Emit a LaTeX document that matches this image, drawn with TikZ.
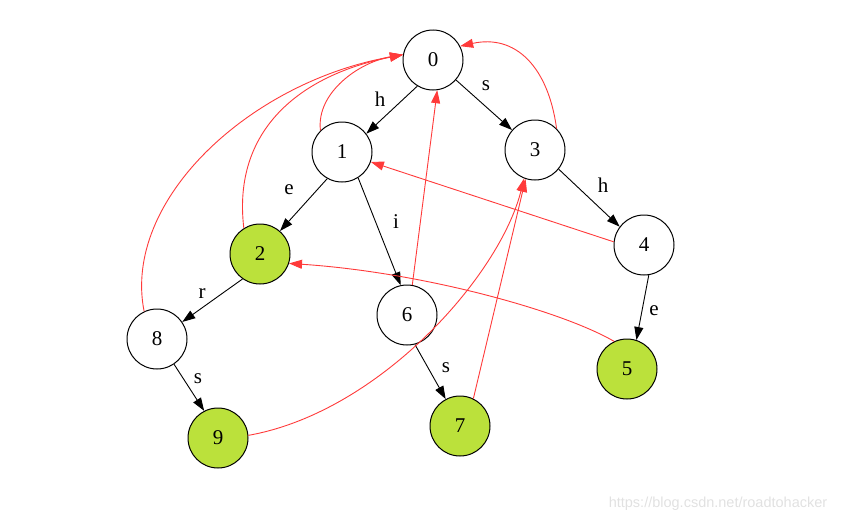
\documentclass[tikz,border=0pt]{standalone}
\usepackage{fontspec}
\setmainfont{Liberation Serif}
\newfontfamily\wmfont{Liberation Sans}
\usetikzlibrary{arrows.meta}
\definecolor{leafgreen}{RGB}{187,225,59}
\definecolor{faillink}{RGB}{255,58,58}
\definecolor{wmgray}{RGB}{225,225,225}
\begin{document}
\begin{tikzpicture}[x=1pt,y=-1pt,
  state/.style={circle,draw=black,line width=1pt,minimum size=60pt,inner sep=0pt,font=\fontsize{21}{21}\selectfont},
  leaf/.style={state,fill=leafgreen},
  trie/.style={draw=black,line width=0.9pt,-{Triangle[length=13pt,width=9pt]}},
  fail/.style={draw=faillink,line width=0.9pt,-{Triangle[length=13pt,width=9pt]}},
  lbl/.style={font=\fontsize{21}{21}\selectfont,inner sep=0pt}]
\useasboundingbox (0,0) rectangle (848,522);
\node[state] (n0) at (433,60) {0};
\node[state] (n1) at (342,152) {1};
\node[state] (n3) at (535,150) {3};
\node[leaf]  (n2) at (260,254) {2};
\node[state] (n4) at (644,245) {4};
\node[state] (n6) at (407,315) {6};
\node[state] (n8) at (157,339) {8};
\node[leaf]  (n5) at (627,369) {5};
\node[leaf]  (n9) at (218,438) {9};
\node[leaf]  (n7) at (460,426) {7};
% trie edges
\draw[trie] (n0.239) -- (n1.37);
\draw[trie] (n0.-41) -- (n3.139);
\draw[trie] (n1.241) -- (n2.49);
\draw[trie] (n1.302) -- (n6.102);
\draw[trie] (n3.321) -- (n4.143);
\draw[trie] (n2.235) -- (n8.34);
\draw[trie] (n4.279) -- (n5.72);
\draw[trie] (n8.304) -- (n9.117);
\draw[trie] (n6.285) -- (n7.118);
\node[lbl] (lh1) at (380,99) {h};
\node[lbl] (ls1) at (486,86) {s};
\node[lbl] (le1) at (289,190) {e};
\node[lbl] (li1) at (396,222) {i};
\node[lbl] (lh2) at (603,185) {h};
\node[lbl] (lr1) at (202,294) {r};
\node[lbl] (le2) at (654,311) {e};
\node[lbl] (ls2) at (198,379) {s};
\node[lbl] (ls3) at (446,368) {s};
% failure links
\draw[fail] (n1.135) .. controls (316,92) and (360,62) .. (n0.170);
\draw[fail] (n2.122) .. controls (232,130) and (300,75) .. (n0.170);
\draw[fail] (n8.115) .. controls (122,200) and (250,82) .. (n0.170);
\draw[fail] (n3.45) .. controls (548,66) and (515,34) .. (n0.27);
\draw[fail] (n6.80) -- (n0.278);
\draw[fail] (n4.174) -- (n1.-19);
\draw[fail] (n5.115) .. controls (560,310) and (420,272) .. (n2.-18);
\draw[fail] (n9.5) .. controls (380,412) and (500,275) .. (n3.249);
\draw[fail] (n7.64) -- (n3.252);
\node[font=\wmfont\fontsize{14.5}{14.5}\selectfont,text=wmgray,inner sep=0pt] (wm) at (718,504) {https://blog.csdn.net/roadtohacker};
\end{tikzpicture}
\end{document}
